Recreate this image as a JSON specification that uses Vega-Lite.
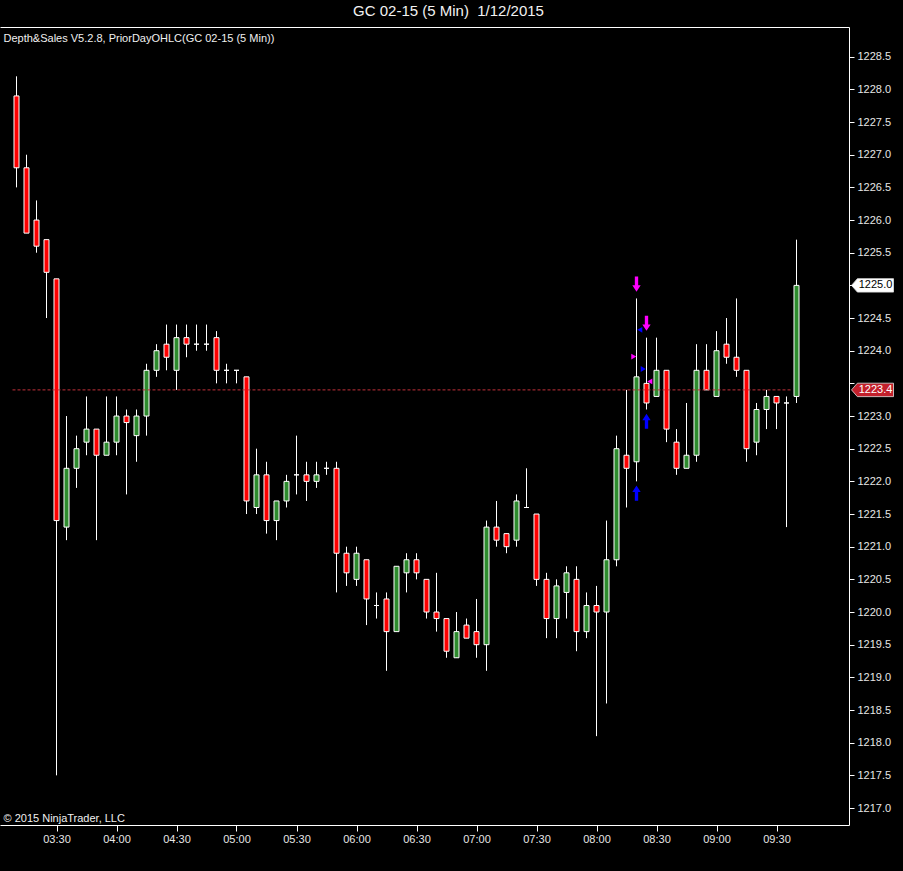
{
  "$schema": "https://vega.github.io/schema/vega-lite/v6.json",
  "width": 849,
  "height": 798,
  "autosize": "none",
  "padding": {"left": 0, "top": 27, "right": 54, "bottom": 46},
  "background": "#000000",
  "config": {
    "view": {"stroke": null},
    "font": "Liberation Sans",
    "axis": {"labelFont": "Liberation Sans", "titleFont": "Liberation Sans"}
  },
  "title": {
    "text": "GC 02-15 (5 Min)\u00a0 1/12/2015",
    "color": "#f2f2f2",
    "font": "Liberation Sans",
    "fontSize": 15,
    "fontWeight": "normal",
    "anchor": "middle",
    "frame": "group",
    "baseline": "middle",
    "offset": 1,
    "dx": 24
  },
  "datasets": {
    "candles": [
      {"t": "2015-01-12T03:10:00Z", "o": 1227.9, "h": 1228.2, "l": 1226.5, "c": 1226.8},
      {"t": "2015-01-12T03:15:00Z", "o": 1226.8, "h": 1227.0, "l": 1225.8, "c": 1225.8},
      {"t": "2015-01-12T03:20:00Z", "o": 1226.0, "h": 1226.3, "l": 1225.5, "c": 1225.6},
      {"t": "2015-01-12T03:25:00Z", "o": 1225.7, "h": 1225.7, "l": 1224.5, "c": 1225.2},
      {"t": "2015-01-12T03:30:00Z", "o": 1225.1, "h": 1225.1, "l": 1217.5, "c": 1221.4},
      {"t": "2015-01-12T03:35:00Z", "o": 1221.3, "h": 1223.0, "l": 1221.1, "c": 1222.2},
      {"t": "2015-01-12T03:40:00Z", "o": 1222.2, "h": 1222.7, "l": 1221.9, "c": 1222.5},
      {"t": "2015-01-12T03:45:00Z", "o": 1222.6, "h": 1223.3, "l": 1222.4, "c": 1222.8},
      {"t": "2015-01-12T03:50:00Z", "o": 1222.8, "h": 1222.8, "l": 1221.1, "c": 1222.4},
      {"t": "2015-01-12T03:55:00Z", "o": 1222.4, "h": 1223.3, "l": 1222.4, "c": 1222.6},
      {"t": "2015-01-12T04:00:00Z", "o": 1222.6, "h": 1223.3, "l": 1222.4, "c": 1223.0},
      {"t": "2015-01-12T04:05:00Z", "o": 1223.0, "h": 1223.1, "l": 1221.8, "c": 1222.9},
      {"t": "2015-01-12T04:10:00Z", "o": 1222.7, "h": 1223.1, "l": 1222.3, "c": 1223.0},
      {"t": "2015-01-12T04:15:00Z", "o": 1223.0, "h": 1223.8, "l": 1222.7, "c": 1223.7},
      {"t": "2015-01-12T04:20:00Z", "o": 1223.7, "h": 1224.1, "l": 1223.6, "c": 1224.0},
      {"t": "2015-01-12T04:25:00Z", "o": 1224.1, "h": 1224.4, "l": 1223.7, "c": 1223.9},
      {"t": "2015-01-12T04:30:00Z", "o": 1223.7, "h": 1224.4, "l": 1223.4, "c": 1224.2},
      {"t": "2015-01-12T04:35:00Z", "o": 1224.2, "h": 1224.4, "l": 1223.9, "c": 1224.1},
      {"t": "2015-01-12T04:40:00Z", "o": 1224.1, "h": 1224.4, "l": 1224.0, "c": 1224.1},
      {"t": "2015-01-12T04:45:00Z", "o": 1224.1, "h": 1224.4, "l": 1224.0, "c": 1224.1},
      {"t": "2015-01-12T04:50:00Z", "o": 1224.2, "h": 1224.3, "l": 1223.5, "c": 1223.7},
      {"t": "2015-01-12T04:55:00Z", "o": 1223.7, "h": 1223.8, "l": 1223.5, "c": 1223.7},
      {"t": "2015-01-12T05:00:00Z", "o": 1223.7, "h": 1223.7, "l": 1223.5, "c": 1223.7},
      {"t": "2015-01-12T05:05:00Z", "o": 1223.6, "h": 1223.6, "l": 1221.5, "c": 1221.7},
      {"t": "2015-01-12T05:10:00Z", "o": 1221.6, "h": 1222.5, "l": 1221.5, "c": 1222.1},
      {"t": "2015-01-12T05:15:00Z", "o": 1222.1, "h": 1222.3, "l": 1221.2, "c": 1221.4},
      {"t": "2015-01-12T05:20:00Z", "o": 1221.4, "h": 1221.7, "l": 1221.1, "c": 1221.7},
      {"t": "2015-01-12T05:25:00Z", "o": 1221.7, "h": 1222.1, "l": 1221.6, "c": 1222.0},
      {"t": "2015-01-12T05:30:00Z", "o": 1222.1, "h": 1222.7, "l": 1221.8, "c": 1222.1},
      {"t": "2015-01-12T05:35:00Z", "o": 1222.1, "h": 1222.3, "l": 1221.7, "c": 1222.0},
      {"t": "2015-01-12T05:40:00Z", "o": 1222.0, "h": 1222.3, "l": 1221.9, "c": 1222.1},
      {"t": "2015-01-12T05:45:00Z", "o": 1222.2, "h": 1222.3, "l": 1222.1, "c": 1222.2},
      {"t": "2015-01-12T05:50:00Z", "o": 1222.2, "h": 1222.3, "l": 1220.3, "c": 1220.9},
      {"t": "2015-01-12T05:55:00Z", "o": 1220.9, "h": 1221.0, "l": 1220.4, "c": 1220.6},
      {"t": "2015-01-12T06:00:00Z", "o": 1220.5, "h": 1221.0, "l": 1220.4, "c": 1220.9},
      {"t": "2015-01-12T06:05:00Z", "o": 1220.8, "h": 1220.8, "l": 1219.8, "c": 1220.2},
      {"t": "2015-01-12T06:10:00Z", "o": 1220.1, "h": 1220.3, "l": 1219.9, "c": 1220.1},
      {"t": "2015-01-12T06:15:00Z", "o": 1220.2, "h": 1220.3, "l": 1219.1, "c": 1219.7},
      {"t": "2015-01-12T06:20:00Z", "o": 1219.7, "h": 1220.7, "l": 1219.7, "c": 1220.7},
      {"t": "2015-01-12T06:25:00Z", "o": 1220.6, "h": 1220.9, "l": 1220.3, "c": 1220.8},
      {"t": "2015-01-12T06:30:00Z", "o": 1220.8, "h": 1220.9, "l": 1220.5, "c": 1220.6},
      {"t": "2015-01-12T06:35:00Z", "o": 1220.5, "h": 1220.5, "l": 1219.9, "c": 1220.0},
      {"t": "2015-01-12T06:40:00Z", "o": 1220.0, "h": 1220.6, "l": 1219.7, "c": 1219.9},
      {"t": "2015-01-12T06:45:00Z", "o": 1219.9, "h": 1219.9, "l": 1219.3, "c": 1219.4},
      {"t": "2015-01-12T06:50:00Z", "o": 1219.3, "h": 1220.0, "l": 1219.3, "c": 1219.7},
      {"t": "2015-01-12T06:55:00Z", "o": 1219.8, "h": 1219.9, "l": 1219.6, "c": 1219.6},
      {"t": "2015-01-12T07:00:00Z", "o": 1219.7, "h": 1220.2, "l": 1219.3, "c": 1219.5},
      {"t": "2015-01-12T07:05:00Z", "o": 1219.5, "h": 1221.4, "l": 1219.1, "c": 1221.3},
      {"t": "2015-01-12T07:10:00Z", "o": 1221.3, "h": 1221.7, "l": 1221.0, "c": 1221.1},
      {"t": "2015-01-12T07:15:00Z", "o": 1221.2, "h": 1221.2, "l": 1220.9, "c": 1221.0},
      {"t": "2015-01-12T07:20:00Z", "o": 1221.1, "h": 1221.8, "l": 1221.0, "c": 1221.7},
      {"t": "2015-01-12T07:25:00Z", "o": 1221.6, "h": 1222.2, "l": 1221.6, "c": 1221.6},
      {"t": "2015-01-12T07:30:00Z", "o": 1221.5, "h": 1221.5, "l": 1220.4, "c": 1220.5},
      {"t": "2015-01-12T07:35:00Z", "o": 1220.5, "h": 1220.6, "l": 1219.6, "c": 1219.9},
      {"t": "2015-01-12T07:40:00Z", "o": 1219.9, "h": 1220.5, "l": 1219.6, "c": 1220.4},
      {"t": "2015-01-12T07:45:00Z", "o": 1220.3, "h": 1220.7, "l": 1219.9, "c": 1220.6},
      {"t": "2015-01-12T07:50:00Z", "o": 1220.5, "h": 1220.7, "l": 1219.4, "c": 1219.7},
      {"t": "2015-01-12T07:55:00Z", "o": 1219.7, "h": 1220.3, "l": 1219.6, "c": 1220.1},
      {"t": "2015-01-12T08:00:00Z", "o": 1220.1, "h": 1220.4, "l": 1218.1, "c": 1220.0},
      {"t": "2015-01-12T08:05:00Z", "o": 1220.0, "h": 1221.4, "l": 1218.6, "c": 1220.8},
      {"t": "2015-01-12T08:10:00Z", "o": 1220.8, "h": 1222.7, "l": 1220.7, "c": 1222.5},
      {"t": "2015-01-12T08:15:00Z", "o": 1222.4, "h": 1223.4, "l": 1221.6, "c": 1222.2},
      {"t": "2015-01-12T08:20:00Z", "o": 1222.3, "h": 1224.8, "l": 1222.0, "c": 1223.6},
      {"t": "2015-01-12T08:25:00Z", "o": 1223.5, "h": 1224.2, "l": 1223.1, "c": 1223.2},
      {"t": "2015-01-12T08:30:00Z", "o": 1223.3, "h": 1224.2, "l": 1223.3, "c": 1223.7},
      {"t": "2015-01-12T08:35:00Z", "o": 1223.7, "h": 1223.7, "l": 1222.6, "c": 1222.8},
      {"t": "2015-01-12T08:40:00Z", "o": 1222.6, "h": 1222.8, "l": 1222.1, "c": 1222.2},
      {"t": "2015-01-12T08:45:00Z", "o": 1222.2, "h": 1223.2, "l": 1222.2, "c": 1222.4},
      {"t": "2015-01-12T08:50:00Z", "o": 1222.4, "h": 1224.1, "l": 1222.3, "c": 1223.7},
      {"t": "2015-01-12T08:55:00Z", "o": 1223.7, "h": 1224.1, "l": 1223.4, "c": 1223.4},
      {"t": "2015-01-12T09:00:00Z", "o": 1223.3, "h": 1224.3, "l": 1223.3, "c": 1224.0},
      {"t": "2015-01-12T09:05:00Z", "o": 1224.1, "h": 1224.5, "l": 1223.8, "c": 1223.9},
      {"t": "2015-01-12T09:10:00Z", "o": 1223.9, "h": 1224.8, "l": 1223.6, "c": 1223.7},
      {"t": "2015-01-12T09:15:00Z", "o": 1223.7, "h": 1223.7, "l": 1222.3, "c": 1222.5},
      {"t": "2015-01-12T09:20:00Z", "o": 1222.6, "h": 1223.2, "l": 1222.4, "c": 1223.1},
      {"t": "2015-01-12T09:25:00Z", "o": 1223.1, "h": 1223.4, "l": 1222.8, "c": 1223.3},
      {"t": "2015-01-12T09:30:00Z", "o": 1223.3, "h": 1223.3, "l": 1222.8, "c": 1223.2},
      {"t": "2015-01-12T09:35:00Z", "o": 1223.2, "h": 1223.3, "l": 1221.3, "c": 1223.2},
      {"t": "2015-01-12T09:40:00Z", "o": 1223.3, "h": 1225.7, "l": 1223.2, "c": 1225.0}
    ],
    "markers": [
      {"t": "2015-01-12T08:20:00Z", "p": 1225.02, "kind": "sell"},
      {"t": "2015-01-12T08:25:00Z", "p": 1224.42, "kind": "sell"},
      {"t": "2015-01-12T08:20:00Z", "p": 1221.82, "kind": "buy"},
      {"t": "2015-01-12T08:25:00Z", "p": 1222.92, "kind": "buy"},
      {"t": "2015-01-12T08:18:39Z", "p": 1223.91, "kind": "askR"},
      {"t": "2015-01-12T08:21:39Z", "p": 1224.32, "kind": "bidL"},
      {"t": "2015-01-12T08:23:21Z", "p": 1223.72, "kind": "bidR"},
      {"t": "2015-01-12T08:26:39Z", "p": 1223.53, "kind": "askL"}
    ],
    "pricelabels": [
      {"p": 1225.0, "label": "1225.0", "kind": "last"},
      {"p": 1223.4, "label": "1223.4", "kind": "prior"}
    ]
  },
  "resolve": {"axis": {"x": "independent", "y": "independent"}},
  "layer": [
    {
      "data": {"name": "candles"},
      "mark": {"type": "rule", "color": "#ffffff", "strokeWidth": 1},
      "encoding": {
        "x": {
          "field": "t",
          "type": "temporal",
          "scale": {
            "type": "utc",
            "padding": 0,
            "domain": [
              {"year": 2015, "month": 1, "date": 12, "hours": 3, "minutes": 1, "seconds": 45, "utc": true},
              {"year": 2015, "month": 1, "date": 12, "hours": 10, "minutes": 6, "seconds": 15, "utc": true}
            ]
          },
          "axis": {
            "orient": "bottom",
            "title": null,
            "grid": false,
            "labelExpr": "utcFormat(datum.value, '%H:%M')",
            "values": [
              {"year": 2015, "month": 1, "date": 12, "hours": 3, "minutes": 30, "utc": true},
              {"year": 2015, "month": 1, "date": 12, "hours": 4, "minutes": 0, "utc": true},
              {"year": 2015, "month": 1, "date": 12, "hours": 4, "minutes": 30, "utc": true},
              {"year": 2015, "month": 1, "date": 12, "hours": 5, "minutes": 0, "utc": true},
              {"year": 2015, "month": 1, "date": 12, "hours": 5, "minutes": 30, "utc": true},
              {"year": 2015, "month": 1, "date": 12, "hours": 6, "minutes": 0, "utc": true},
              {"year": 2015, "month": 1, "date": 12, "hours": 6, "minutes": 30, "utc": true},
              {"year": 2015, "month": 1, "date": 12, "hours": 7, "minutes": 0, "utc": true},
              {"year": 2015, "month": 1, "date": 12, "hours": 7, "minutes": 30, "utc": true},
              {"year": 2015, "month": 1, "date": 12, "hours": 8, "minutes": 0, "utc": true},
              {"year": 2015, "month": 1, "date": 12, "hours": 8, "minutes": 30, "utc": true},
              {"year": 2015, "month": 1, "date": 12, "hours": 9, "minutes": 0, "utc": true},
              {"year": 2015, "month": 1, "date": 12, "hours": 9, "minutes": 30, "utc": true}
            ],
            "domainColor": "#ffffff",
            "domainWidth": 1,
            "tickColor": "#ffffff",
            "tickSize": 6,
            "labelColor": "#e6e6e6",
            "labelFontSize": 11,
            "labelPadding": 2,
            "labelFlush": false
          }
        },
        "y": {
          "field": "l",
          "type": "quantitative",
          "scale": {"domain": [1216.74, 1228.955], "zero": false, "nice": false, "padding": 0},
          "axis": {
            "orient": "right",
            "title": null,
            "grid": false,
            "labelExpr": "datum.value == 1225 || datum.value == 1223.5 ? '' : format(datum.value, '.1f')",
            "values": [1217.0, 1217.5, 1218.0, 1218.5, 1219.0, 1219.5, 1220.0, 1220.5, 1221.0, 1221.5, 1222.0, 1222.5, 1223.0, 1223.5, 1224.0, 1224.5, 1225.0, 1225.5, 1226.0, 1226.5, 1227.0, 1227.5, 1228.0, 1228.5],
            "domainColor": "#ffffff",
            "tickColor": "#ffffff",
            "tickSize": 5,
            "labelColor": "#e6e6e6",
            "labelFontSize": 11,
            "labelPadding": 3,
            "labelFlush": false
          }
        },
        "y2": {"field": "h"}
      }
    },
    {
      "data": {"name": "candles"},
      "mark": {"type": "bar", "width": 5, "stroke": "#ffffff", "strokeWidth": 1},
      "encoding": {
        "x": {
          "field": "t",
          "type": "temporal",
          "axis": {"orient": "top", "labels": false, "ticks": false, "grid": false, "title": null, "domainColor": "#ffffff"}
        },
        "y": {"field": "o", "type": "quantitative", "axis": null},
        "y2": {"field": "c"},
        "fill": {
          "condition": {"test": "datum.c > datum.o", "value": "#2e8b2e"},
          "value": "#ff0000"
        }
      }
    },
    {
      "data": {"values": [{}]},
      "mark": {"type": "rule", "color": "#c0303a", "strokeWidth": 1, "strokeDash": [3, 2]},
      "encoding": {
        "x": {"datum": {"year": 2015, "month": 1, "date": 12, "hours": 3, "minutes": 8, "utc": true}, "type": "temporal", "axis": null},
        "x2": {"datum": {"year": 2015, "month": 1, "date": 12, "hours": 9, "minutes": 38, "utc": true}},
        "y": {"datum": 1223.4, "type": "quantitative", "axis": null}
      }
    },
    {
      "data": {"name": "markers"},
      "transform": [{"filter": "datum.kind === 'sell' || datum.kind === 'buy'"}],
      "mark": {"type": "point", "filled": true, "opacity": 1, "strokeWidth": 0, "size": 230},
      "encoding": {
        "x": {"field": "t", "type": "temporal", "axis": null},
        "y": {"field": "p", "type": "quantitative", "axis": null},
        "shape": {
          "condition": {"test": "datum.kind === 'sell'", "value": "M 0 1 L 0.55 0.15 L 0.22 0.15 L 0.22 -1 L -0.22 -1 L -0.22 0.15 L -0.55 0.15 Z"},
          "value": "M 0 -1 L 0.55 -0.15 L 0.22 -0.15 L 0.22 1 L -0.22 1 L -0.22 -0.15 L -0.55 -0.15 Z"
        },
        "fill": {
          "condition": {"test": "datum.kind === 'sell'", "value": "#ff00ff"},
          "value": "#0000ff"
        }
      }
    },
    {
      "data": {"name": "markers"},
      "transform": [{"filter": "datum.kind !== 'sell' && datum.kind !== 'buy'"}],
      "mark": {"type": "point", "filled": true, "opacity": 1, "strokeWidth": 0, "size": 34},
      "encoding": {
        "x": {"field": "t", "type": "temporal", "axis": null},
        "y": {"field": "p", "type": "quantitative", "axis": null},
        "shape": {
          "condition": {"test": "datum.kind === 'askR' || datum.kind === 'bidR'", "value": "triangle-right"},
          "value": "triangle-left"
        },
        "fill": {
          "condition": {"test": "datum.kind === 'askR' || datum.kind === 'askL'", "value": "#ff00ff"},
          "value": "#0000ff"
        }
      }
    },
    {
      "data": {"name": "pricelabels"},
      "mark": {
        "type": "point",
        "shape": "M -1 0 L -0.72 -0.32 L 1 -0.32 L 1 0.32 L -0.72 0.32 Z",
        "size": 1764,
        "filled": true,
        "opacity": 1,
        "stroke": "#e0e0e0",
        "strokeWidth": 0.8
      },
      "encoding": {
        "x": {"datum": {"year": 2015, "month": 1, "date": 12, "hours": 10, "minutes": 18, "utc": true}, "type": "temporal", "axis": null},
        "y": {"field": "p", "type": "quantitative", "axis": null},
        "fill": {
          "condition": {"test": "datum.kind === 'last'", "value": "#ffffff"},
          "value": "#c3202c"
        }
      }
    },
    {
      "data": {"name": "pricelabels"},
      "mark": {"type": "text", "align": "center", "baseline": "middle", "fontSize": 11, "font": "Liberation Sans"},
      "encoding": {
        "x": {"datum": {"year": 2015, "month": 1, "date": 12, "hours": 10, "minutes": 19, "seconds": 30, "utc": true}, "type": "temporal", "axis": null},
        "y": {"field": "p", "type": "quantitative", "axis": null},
        "text": {"field": "label"},
        "color": {
          "condition": {"test": "datum.kind === 'last'", "value": "#000000"},
          "value": "#ffffff"
        }
      }
    },
    {
      "data": {"values": [{"label": "Depth&Sales V5.2.8, PriorDayOHLC(GC 02-15 (5 Min))"}]},
      "mark": {"type": "text", "align": "left", "baseline": "middle", "fontSize": 11, "font": "Liberation Sans", "color": "#f0f0f0", "dx": 3},
      "encoding": {
        "x": {"datum": {"year": 2015, "month": 1, "date": 12, "hours": 3, "minutes": 2, "utc": true}, "type": "temporal", "axis": null},
        "y": {"datum": 1228.771, "type": "quantitative", "axis": null},
        "text": {"field": "label"}
      }
    },
    {
      "data": {"values": [{"label": "© 2015 NinjaTrader, LLC"}]},
      "mark": {"type": "text", "align": "left", "baseline": "middle", "fontSize": 11, "font": "Liberation Sans", "color": "#f0f0f0", "dx": 3},
      "encoding": {
        "x": {"datum": {"year": 2015, "month": 1, "date": 12, "hours": 3, "minutes": 2, "utc": true}, "type": "temporal", "axis": null},
        "y": {"datum": 1216.832, "type": "quantitative", "axis": null},
        "text": {"field": "label"}
      }
    }
  ]
}
